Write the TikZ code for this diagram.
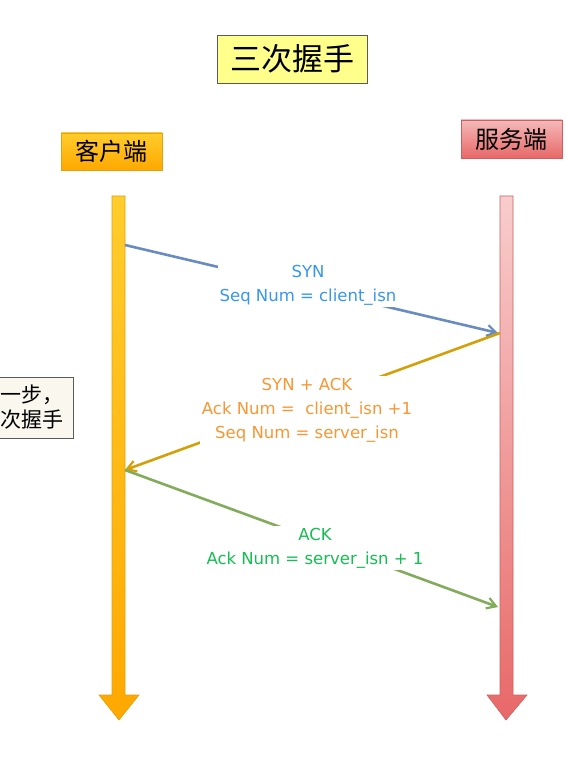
\documentclass[tikz,border=0pt]{standalone}
\usepackage{fontspec}
\setmainfont{DejaVu Sans}
\newfontfamily\cjk{Noto Sans CJK SC}
\usetikzlibrary{arrows.meta, positioning}
\definecolor{TY}{RGB}{255,255,140}
\definecolor{OT}{RGB}{255,205,45}
\definecolor{OB}{RGB}{255,168,0}
\definecolor{OD}{RGB}{225,160,20}
\definecolor{RT}{RGB}{248,205,205}
\definecolor{RB}{RGB}{232,104,104}
\definecolor{RD}{RGB}{205,95,95}
\definecolor{IV}{RGB}{250,248,238}
\definecolor{GR}{RGB}{90,90,90}
\definecolor{LBl}{RGB}{105,140,192}
\definecolor{LGo}{RGB}{212,160,10}
\definecolor{LGn}{RGB}{130,172,92}
\definecolor{TBl}{RGB}{55,150,240}
\definecolor{TOr}{RGB}{250,150,50}
\definecolor{TGn}{RGB}{20,190,80}

\begin{document}
\begin{tikzpicture}[x=1pt, y=-1pt,
  cbox/.style={draw=#1, line width=0.8pt, align=center, inner sep=0pt,
               font=\cjk\fontsize{24}{28}\selectfont},
  arr/.style={-{Straight Barb[length=9pt, width=11pt, line width=2.2pt]}, line width=2.6pt, draw=#1},
  lbl/.style={fill=white, inner sep=2pt, align=center, text=#1,
              font=\fontsize{16.5}{24}\selectfont}
]
\clip (0,0) rectangle (566,759);
\fill[white] (0,0) rectangle (566,759);

% title and the two ends
\node[cbox=GR, fill=TY, minimum width=150pt, minimum height=48pt,
      font=\cjk\fontsize{31}{35}\selectfont] (title) at (292,59) {三次握手};
\node[cbox=OD, top color=OT, bottom color=OB,
      minimum width=101pt, minimum height=37pt] (client) at (111.5,151.5) {客户端};
\node[cbox=RD, top color=RT!80!RB, bottom color=RB,
      minimum width=101pt, minimum height=38pt] (server) at (511.5,139) {服务端};
\node[cbox=GR, fill=IV, minimum width=102pt, minimum height=61pt,
      font=\cjk\fontsize{21}{25}\selectfont] (note) at (22,407.5) {第一步，\\三次握手};

% time lines
\draw[OD, line width=0.6pt, top color=OT, bottom color=OB]
  (112,196) -- (125,196) -- (125,695) -- (139,695) -- (119,720)
  -- (99,695) -- (112,695) -- cycle;
\draw[RD, line width=0.6pt, top color=RT, bottom color=RB]
  (500,196) -- (513,196) -- (513,695) -- (527,695) -- (506,720)
  -- (487,695) -- (500,695) -- cycle;

\coordinate (c1) at (125,245);
\coordinate (s1) at (498,333);
\coordinate (s2) at (500,333);
\coordinate (c2) at (125,470);
\coordinate (c3) at (125,470);
\coordinate (s3) at (498,607);

% the three segments
\draw[arr=LBl] (c1) -- (s1);
\draw[arr=LGo] (s2) -- (c2);
\draw[arr=LGn] (c3) -- (s3);

\node[lbl=TBl] (syn) at (308,285) {SYN\\Seq Num = client\_isn};
\node[lbl=TOr] (synack) at (307,410) {SYN + ACK\\Ack Num = \ client\_isn +1\\Seq Num = server\_isn};
\node[lbl=TGn] (ack) at (315,548) {ACK\\Ack Num = server\_isn + 1};
\end{tikzpicture}
\end{document}
